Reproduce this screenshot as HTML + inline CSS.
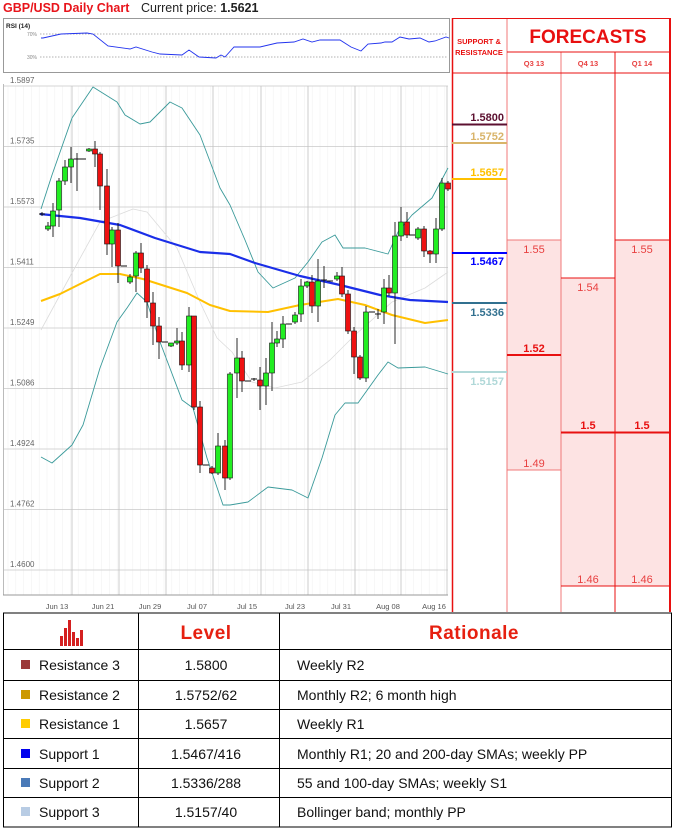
<!DOCTYPE html>
<html><head><meta charset="utf-8"><style>
html,body{margin:0;padding:0;background:#fff;width:675px;height:830px;overflow:hidden;font-family:"Liberation Sans",sans-serif}
svg{display:block}
</style></head><body>
<svg id="s" width="675" height="830" viewBox="0 0 675 830" xmlns="http://www.w3.org/2000/svg" font-family="Liberation Sans, sans-serif">
<text x="3" y="12" font-size="12.5" font-weight="bold" fill="#e8141b">GBP/USD Daily Chart</text>
<text x="141" y="12" font-size="12.5" fill="#222">Current price: <tspan font-weight="bold">1.5621</tspan></text>
<!-- RSI -->
<rect x="3.5" y="18.5" width="446" height="54" fill="#fff" stroke="#999"/>
<text x="6" y="28" font-size="6.5" font-weight="bold" fill="#222">RSI (14)</text>
<line x1="40" y1="34" x2="448" y2="34" stroke="#999" stroke-dasharray="1.5,1.5" stroke-width="0.7"/>
<line x1="40" y1="57" x2="448" y2="57" stroke="#999" stroke-dasharray="1.5,1.5" stroke-width="0.7"/>
<text x="27" y="36" font-size="5" fill="#888">70%</text>
<text x="27" y="59" font-size="5" fill="#888">30%</text>
<polyline fill="none" stroke="#2233ee" stroke-width="0.9" points="41,38 43,38 61,34 87,33 93,34 108,46 130,49 136,47 152,52 160,54 182,55 189,50 199,57 216,58 221,55 225,57 234,47 260,47 277,43 294,42 303,39 312,42 320,40 340,40 351,47 361,51 368,44 381,43 385,42 392,42 400,37 409,39 420,38 429,42 435,41 446,37 449,38"/>
<!-- main chart -->
<g id="grid"></g>
<g id="lines"></g>
<g id="candles"></g>
<!-- right panel -->
<rect x="507" y="240" width="54" height="230" fill="#fde3e3"/>
<rect x="561" y="278" width="54" height="308" fill="#fde3e3"/>
<rect x="615" y="240" width="55" height="346" fill="#fde3e3"/>
<g stroke="#f07878" stroke-width="1">
<line x1="507" y1="18" x2="507" y2="612"/>
<line x1="561" y1="52" x2="561" y2="612"/>
<line x1="507" y1="240" x2="561" y2="240"/>
<line x1="507" y1="470" x2="561" y2="470"/>
</g>
<g stroke="#e81010" stroke-width="1">
<line x1="615" y1="52" x2="615" y2="612"/>
<line x1="507" y1="52" x2="670" y2="52"/>
<line x1="452" y1="73" x2="670" y2="73"/>
<line x1="561" y1="278" x2="615" y2="278"/>
<line x1="615" y1="240" x2="670" y2="240"/>
<line x1="561" y1="586" x2="670" y2="586"/>
</g>
<line x1="507" y1="355" x2="561" y2="355" stroke="#e81010" stroke-width="2"/>
<line x1="561" y1="432.5" x2="670" y2="432.5" stroke="#e81010" stroke-width="2"/>
<line x1="452.5" y1="18" x2="452.5" y2="612" stroke="#e81010" stroke-width="1.5"/>
<line x1="670" y1="18" x2="670" y2="612" stroke="#e81010" stroke-width="2"/>
<line x1="452" y1="18.5" x2="670" y2="18.5" stroke="#e81010" stroke-width="1"/>
<text x="479" y="44" font-size="7.5" font-weight="bold" fill="#e81010" text-anchor="middle">SUPPORT &amp;</text>
<text x="479" y="55" font-size="7.5" font-weight="bold" fill="#e81010" text-anchor="middle">RESISTANCE</text>
<text x="588" y="43" font-size="19" font-weight="bold" fill="#e81010" text-anchor="middle">FORECASTS</text>
<text x="534" y="66" font-size="7.5" font-weight="bold" fill="#e84040" text-anchor="middle">Q3 13</text>
<text x="588" y="66" font-size="7.5" font-weight="bold" fill="#e84040" text-anchor="middle">Q4 13</text>
<text x="642" y="66" font-size="7.5" font-weight="bold" fill="#e84040" text-anchor="middle">Q1 14</text>
<g font-size="11" fill="#e84040" text-anchor="middle">
<text x="534" y="253">1.55</text><text x="642" y="253">1.55</text>
<text x="588" y="291">1.54</text><text x="534" y="467">1.49</text>
<text x="588" y="583">1.46</text><text x="642" y="583">1.46</text>
</g>
<g font-size="11" fill="#e81010" font-weight="bold" text-anchor="middle">
<text x="534" y="352">1.52</text><text x="588" y="429">1.5</text><text x="642" y="429">1.5</text>
</g>
<g font-size="11" font-weight="bold" text-anchor="end">
<line x1="452" y1="124.5" x2="507" y2="124.5" stroke="#5c1030" stroke-width="2"/><text x="504" y="121" fill="#5c1030">1.5800</text>
<line x1="452" y1="143" x2="507" y2="143" stroke="#d9b46a" stroke-width="2"/><text x="504" y="140" fill="#d9b46a">1.5752</text>
<line x1="452" y1="179" x2="507" y2="179" stroke="#ffc000" stroke-width="2"/><text x="504" y="176" fill="#ffc000">1.5657</text>
<line x1="452" y1="253" x2="507" y2="253" stroke="#0000ff" stroke-width="2"/><text x="504" y="265" fill="#0000ff">1.5467</text>
<line x1="452" y1="303" x2="507" y2="303" stroke="#31708f" stroke-width="2"/><text x="504" y="316" fill="#31708f">1.5336</text>
<line x1="452" y1="372" x2="507" y2="372" stroke="#b0d8d8" stroke-width="2"/><text x="504" y="385" fill="#b0d8d8">1.5157</text>
</g>
<!-- table -->
<g stroke="#000" stroke-width="1" fill="none">
<rect x="3.5" y="613" width="668" height="214"/>
<line x1="138.5" y1="613" x2="138.5" y2="827"/>
<line x1="279.5" y1="613" x2="279.5" y2="827"/>
<line x1="3" y1="649.5" x2="672" y2="649.5"/>
<line x1="3" y1="680.5" x2="672" y2="680.5"/>
<line x1="3" y1="709.5" x2="672" y2="709.5"/>
<line x1="3" y1="738.5" x2="672" y2="738.5"/>
<line x1="3" y1="768.5" x2="672" y2="768.5"/>
<line x1="3" y1="797.5" x2="672" y2="797.5"/>
</g>
<g fill="#d42020">
<rect x="60" y="636" width="3" height="10"/><rect x="64" y="628" width="3" height="18"/><rect x="68" y="620" width="3" height="26"/><rect x="72" y="632" width="3" height="14"/><rect x="76" y="638" width="3" height="8"/><rect x="80" y="630" width="3" height="16"/>
</g>
<text x="206" y="639" font-size="19" font-weight="bold" fill="#e62010" text-anchor="middle" letter-spacing="0.5">Level</text>
<text x="474" y="639" font-size="19" font-weight="bold" fill="#e62010" text-anchor="middle" letter-spacing="0.5">Rationale</text>
<g font-size="14" fill="#111">
<rect x="21" y="660" width="9" height="9" fill="#9b3838"/><text x="39" y="670">Resistance 3</text>
<rect x="21" y="690" width="9" height="9" fill="#cc9900"/><text x="39" y="700">Resistance 2</text>
<rect x="21" y="719" width="9" height="9" fill="#ffcc00"/><text x="39" y="729">Resistance 1</text>
<rect x="21" y="749" width="9" height="9" fill="#0000ee"/><text x="39" y="759">Support 1</text>
<rect x="21" y="778" width="9" height="9" fill="#4a7ab8"/><text x="39" y="788">Support 2</text>
<rect x="21" y="807" width="9" height="9" fill="#b8cce4"/><text x="39" y="817">Support 3</text>
<g text-anchor="middle">
<text x="206" y="670">1.5800</text><text x="206" y="700">1.5752/62</text><text x="206" y="729">1.5657</text>
<text x="206" y="759">1.5467/416</text><text x="206" y="788">1.5336/288</text><text x="206" y="817">1.5157/40</text>
</g>
<text x="297" y="670">Weekly R2</text><text x="297" y="700">Monthly R2; 6 month high</text><text x="297" y="729">Weekly R1</text>
<text x="297" y="759">Monthly R1; 20 and 200-day SMAs; weekly PP</text><text x="297" y="788">55 and 100-day SMAs; weekly S1</text><text x="297" y="817">Bollinger band; monthly PP</text>
</g>
</svg>
<script>
var NS="http://www.w3.org/2000/svg";
function el(p,t,a,txt){var e=document.createElementNS(NS,t);for(var k in a)e.setAttribute(k,a[k]);if(txt)e.textContent=txt;document.getElementById(p).appendChild(e);return e;}
// grid
var ys=[86,146.5,207,267.5,328,388.5,449,509.5,570];
var labs=["1.5897","1.5735","1.5573","1.5411","1.5249","1.5086","1.4924","1.4762","1.4600"];
for(var x=8;x<448;x+=7.8)el("grid","line",{x1:x,y1:86,x2:x,y2:595,stroke:"#f2f2f2","stroke-width":0.6});
ys.forEach(function(y,i){el("grid","line",{x1:3,y1:y,x2:448,y2:y,stroke:"#c8c8c8","stroke-width":0.8});el("grid","text",{x:10,y:y-3,"font-size":8,fill:"#666"},labs[i]);});
[72,119,166,213,261,308,355,401,447].forEach(function(x){el("grid","line",{x1:x,y1:86,x2:x,y2:595,stroke:"#c0c0c0","stroke-width":0.8});});
el("grid","line",{x1:3.5,y1:84,x2:3.5,y2:595,stroke:"#bbb","stroke-width":1});
el("grid","line",{x1:3,y1:595,x2:448,y2:595,stroke:"#999","stroke-width":1});
var dl=["Jun 13","Jun 21","Jun 29","Jul 07","Jul 15","Jul 23","Jul 31","Aug 08","Aug 16"];
[57,103,150,197,247,295,341,388,434].forEach(function(x,i){el("grid","text",{x:x,y:609,"font-size":7.5,fill:"#555","text-anchor":"middle"},dl[i]);});
// lines
function pl(pts,c,w){el("lines","polyline",{points:pts,fill:"none",stroke:c,"stroke-width":w,"stroke-linejoin":"round"});}
pl("41,330 67,282 100,222 133,209 147,212 177,248 200,302 217,338 232,352 252,382 275,388 302,382 330,360 355,335 392,302 425,288 448,272","#dcdcdc",0.8);
pl("41,209 52,175 72,118 93,87 117,102 125,115 140,124 150,122 170,102 182,108 200,135 220,188 230,205 245,240 258,272 273,288 295,278 308,262 322,242 335,235 343,248 365,248 388,254 398,232 412,215 432,198 448,168","#3a9a9a",0.9);
pl("41,457 52,463 72,445 83,425 100,368 117,322 127,308 137,293 147,302 160,342 182,400 193,408 207,458 223,505 230,505 248,502 268,487 292,490 308,498 322,458 335,415 345,403 358,403 378,375 388,362 398,368 425,367 448,374","#3a9a9a",0.9);
pl("41,301 60,294 80,284 100,274 120,274 143,279 165,286 187,293 210,305 230,311 268,312 300,305 338,299 365,305 392,315 425,323 448,320","#ffc000",2);
pl("40,214 80,218 120,225 155,238 200,252 230,254 255,263 300,276 340,285 380,295 410,300 448,302","#1a2ee8",2.2);
// candles: x, open, close, high, low (y px)
var C=[[42,214,214,212,216],[48,229,226,222,231],[53,226,211,203,237],[59,210,181,178,227],[65,181,167,160,185],[71,167,159,147,183],[77,159,159,153,191],[83,159,159,159,159],[89,151,149,148,152],[95,149,154,141,167],[100,154,186,152,210],[107,186,244,169,255],[112,244,230,227,267],[118,230,266,223,283],[124,266,266,266,266],[130,282,277,274,284],[136,276,253,251,292],[141,253,268,243,273],[147,269,302,265,318],[153,303,326,292,345],[159,326,342,317,359],[165,342,342,342,342],[171,346,343,343,347],[177,343,341,328,345],[182,341,365,332,370],[189,365,316,307,372],[194,316,407,316,410],[200,407,465,401,473],[206,465,465,465,465],[212,468,473,466,474],[218,473,446,433,475],[225,446,478,440,490],[230,478,374,372,480],[237,373,358,338,398],[242,358,381,351,392],[248,381,381,381,381],[254,379,380,378,381],[260,380,386,367,410],[266,386,373,358,405],[272,373,343,322,391],[277,343,339,331,347],[283,339,324,316,348],[289,324,324,324,324],[295,322,315,312,324],[301,314,286,279,322],[307,286,282,281,288],[312,282,306,275,313],[318,306,281,259,322],[324,280,280,266,288],[330,281,281,281,281],[337,279,276,272,281],[342,276,294,267,297],[348,294,331,290,334],[354,331,357,327,374],[360,357,378,355,380],[366,378,312,306,382],[372,312,312,312,312],[378,314,314,309,319],[384,312,288,279,324],[389,288,293,275,296],[395,293,236,222,344],[401,236,222,207,241],[407,222,235,212,238],[412,235,235,235,235],[418,238,229,227,240],[424,229,251,226,257],[430,251,254,250,263],[436,254,229,218,263],[442,229,183,178,231],[448,183,189,181,191]];
C.forEach(function(c){var x=c[0],o=c[1],cl=c[2],h=c[3],l=c[4];
 el("candles","line",{x1:x,y1:h,x2:x,y2:l,stroke:"#111","stroke-width":0.9});
 var top=Math.min(o,cl),ht=Math.abs(o-cl);
 if(ht<1.5){el("candles","line",{x1:x-3,y1:top,x2:x+3,y2:top,stroke:"#111","stroke-width":1});}
 else el("candles","rect",{x:x-2.5,y:top,width:5,height:ht,fill:(cl<o?"#22ee22":"#ee1111"),stroke:"#111","stroke-width":0.6});
});
</script>
</body></html>
